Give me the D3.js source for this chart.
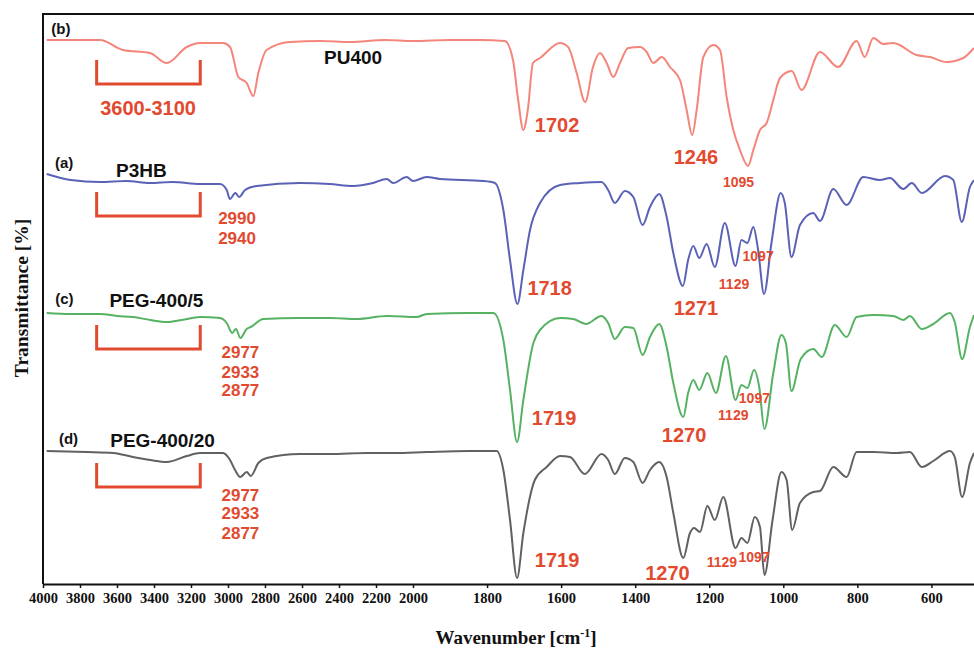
<!DOCTYPE html>
<html>
<head>
<meta charset="utf-8">
<script src="https://cdn.jsdelivr.net/npm/d3@7/dist/d3.min.js"></script>
<style>
  html, body { margin: 0; padding: 0; background: #fff; }
  svg { display: block; }
</style>
</head>
<body>
<svg id="chart" width="974" height="649"></svg>
<script>
// FTIR spectra, stacked with vertical offsets (offset transmittance, a.u.)
// Each point: [wavenumber cm-1, offset transmittance]

const wavenumberTicks = [4000, 3800, 3600, 3400, 3200, 3000, 2800, 2600, 2400, 2200, 2000,
                         1800, 1600, 1400, 1200, 1000, 800, 600];

const seriesNames = ["PU400", "P3HB", "PEG-400/5", "PEG-400/20"];
const seriesTags  = ["(b)", "(a)", "(c)", "(d)"];

const pu400 = [[3980,544],[3692,544],[3568,534],[3422,531],[3331,521],[3223,537],[3151,541],[3027,541],
  [2989,537],[2944,507],[2899,501],[2863,488],[2836,511],[2791,534],[2665,542],[2500,543],[2341,542],
  [2150,544],[2000,543],[1900,544],[1819,544],[1752,543],[1730,524],[1716,484],[1702,454],[1690,474],
  [1676,521],[1657,526],[1603,541],[1581,537],[1558,511],[1535,482],[1514,517],[1495,531],[1477,521],
  [1459,507],[1441,521],[1419,536],[1387,537],[1369,532],[1351,521],[1328,527],[1306,517],[1279,504],
  [1261,474],[1246,449],[1234,474],[1216,527],[1189,539],[1171,534],[1153,487],[1135,454],[1117,434],
  [1095,418],[1081,434],[1063,454],[1045,461],[1027,484],[1009,506],[977,513],[951,494],[901,532],
  [852,517],[802,543],[780,527],[757,546],[730,540],[703,541],[640,529],[604,527],[559,522],[514,526],
  [485,536]];

const p3hb = [[3980,410],[3850,404],[3692,402],[3550,403],[3422,401],[3300,402],[3151,400],[3043,400],
  [3007,394],[2990,385],[2960,391],[2940,387],[2908,394],[2845,398],[2611,401],[2450,400],[2324,398],
  [2216,401],[2142,405],[2107,401],[2034,407],[2000,403],[1963,407],[1927,405],[1811,403],[1779,401],
  [1756,374],[1738,324],[1718,280],[1702,314],[1684,354],[1657,381],[1603,399],[1549,401],[1491,402],
  [1473,394],[1455,381],[1428,393],[1405,387],[1380,359],[1360,377],[1335,390],[1315,367],[1297,331],
  [1271,298],[1257,324],[1243,338],[1227,326],[1207,340],[1185,317],[1158,361],[1129,318],[1113,344],
  [1097,341],[1081,357],[1068,334],[1052,290],[1032,341],[1007,391],[996,381],[978,327],[955,359],
  [919,371],[901,363],[865,395],[829,379],[784,407],[739,404],[712,406],[676,395],[653,401],[626,391],
  [563,408],[541,404],[518,362],[496,397],[485,404]];

const peg400_5 = [[3980,271],[3850,270],[3692,270],[3600,268],[3514,267],[3420,264],[3331,262],[3250,264],
  [3151,267],[3043,266],[3007,261],[2977,251],[2957,255],[2933,246],[2899,255],[2877,257],[2809,265],
  [2611,266],[2450,266],[2304,265],[2142,268],[1990,267],[1963,270],[1850,271],[1783,271],[1756,244],
  [1738,194],[1719,142],[1702,184],[1675,241],[1657,254],[1603,266],[1567,265],[1533,260],[1491,268],
  [1473,261],[1455,245],[1428,257],[1405,256],[1380,229],[1360,247],[1335,260],[1315,237],[1297,201],
  [1270,167],[1257,191],[1243,204],[1227,194],[1205,211],[1182,191],[1155,228],[1129,184],[1113,199],
  [1097,196],[1079,214],[1065,197],[1051,155],[1027,211],[1005,249],[993,241],[978,193],[953,225],
  [919,235],[896,227],[861,259],[829,247],[802,267],[757,269],[703,268],[676,264],[658,268],[626,255],
  [595,260],[550,271],[537,262],[517,225],[496,257],[485,269]];

const peg400_20 = [[3980,133],[3764,132],[3620,131],[3514,127],[3420,124],[3331,122],[3223,128],[3151,131],
  [3027,131],[2989,124],[2962,114],[2933,107],[2899,112],[2877,108],[2836,121],[2791,126],[2611,130],
  [2450,130],[2250,131],[2100,131],[1963,132],[1850,133],[1774,133],[1756,114],[1738,64],[1719,6],
  [1702,51],[1671,104],[1639,117],[1603,128],[1576,127],[1536,110],[1491,130],[1473,124],[1455,110],
  [1428,126],[1405,122],[1380,101],[1360,114],[1335,122],[1315,107],[1297,71],[1270,26],[1252,51],
  [1241,56],[1225,52],[1205,78],[1185,64],[1162,87],[1129,36],[1113,46],[1097,41],[1077,67],[1063,57],
  [1051,9],[1029,64],[1005,112],[991,104],[976,54],[955,81],[919,92],[901,93],[865,117],[829,107],
  [802,132],[757,132],[694,131],[658,132],[626,117],[595,123],[550,133],[537,127],[517,87],[496,121],
  [485,131]];

const spectra = [pu400, p3hb, peg400_5, peg400_20];

// O-H stretching region bracket, drawn under each spectrum
const bracketRange = [3710, 3150];
const bracketTops  = [524, 392, 259, 121];
const bracketDepth = 24;

// Label anchors: [text, wavenumber, offset transmittance, kind]
const nameAnchors = [[2324,527],[3468,414],[3387,284],[3354,144]];
const tagAnchors  = [[3903,556],[3886,422],[3884,286],[3862,146]];
const peakLabels = [
  ["3600-3100", 3432, 476, "major"],
  ["1702", 1611, 459, "major"],
  ["1246", 1236, 427, "major"],
  ["1095", 1121, 402, "minor"],
  ["2990", 2951, 366, "ch"],
  ["2940", 2951, 346, "ch"],
  ["1718", 1631, 296, "major"],
  ["1271", 1236, 276, "major"],
  ["1129", 1133, 300, "minor"],
  ["1097", 1068, 328, "minor"],
  ["2977", 2933, 232, "ch"],
  ["2933", 2933, 212, "ch"],
  ["2877", 2933, 194, "ch"],
  ["1719", 1619, 166, "major"],
  ["1270", 1268, 149, "major"],
  ["1129", 1135, 169, "minor"],
  ["1097", 1078, 186, "minor"],
  ["2977", 2933, 89, "ch"],
  ["2933", 2933, 71, "ch"],
  ["2877", 2933, 51, "ch"],
  ["1719", 1611, 24, "major"],
  ["1270", 1313, 11, "major"],
  ["1129", 1166, 22, "minor"],
  ["1097", 1079, 27, "minor"]
];

// ---- drawing ----
const plot = { left: 43, top: 14, right: 974, bottom: 584 };
const lineColors = ["#f4857b", "#5a62b6", "#55b262", "#616161"];
const annotColor = "#e24a30";
const labelSizes = { major: 20, ch: 17, minor: 14 };

const svg = d3.select("#chart");

// Split wavenumber axis: 4000-2000 compressed, 2000 and below expanded
const x = d3.scaleLinear().domain([4000, 2000, 485]).range([plot.left, 413, plot.right]);
const y = d3.scaleLinear().domain([0, 570]).range([plot.bottom, plot.top]);

svg.append("defs").append("clipPath").attr("id", "plotClip")
  .append("rect").attr("x", plot.left).attr("y", plot.top)
  .attr("width", plot.right - plot.left).attr("height", plot.bottom - plot.top);

const line = d3.line()
  .x(d => x(d[0]))
  .y(d => y(d[1]))
  .curve(d3.curveMonotoneX);

svg.append("g").attr("clip-path", "url(#plotClip)")
  .selectAll("path.spectrum")
  .data(spectra)
  .join("path")
  .attr("class", "spectrum")
  .attr("d", line)
  .attr("fill", "none")
  .attr("stroke", (d, i) => lineColors[i])
  .attr("stroke-width", 2)
  .attr("stroke-linejoin", "round");

// brackets
svg.append("g").selectAll("path.bracket")
  .data(bracketTops)
  .join("path")
  .attr("class", "bracket")
  .attr("d", t => {
    const x0 = x(bracketRange[0]), x1 = x(bracketRange[1]);
    const yt = y(t), yb = y(t - bracketDepth);
    return `M${x0},${yt}V${yb}H${x1}V${yt}`;
  })
  .attr("fill", "none")
  .attr("stroke", annotColor)
  .attr("stroke-width", 3);

// frame: left, top
svg.append("line").attr("x1", plot.left).attr("x2", plot.left)
  .attr("y1", plot.top).attr("y2", plot.bottom)
  .attr("stroke", "#111").attr("stroke-width", 2);
svg.append("line").attr("x1", plot.left - 1).attr("x2", plot.right)
  .attr("y1", plot.top).attr("y2", plot.top)
  .attr("stroke", "#111").attr("stroke-width", 2);

// bottom axis
const xAxis = d3.axisBottom(x)
  .tickValues(wavenumberTicks)
  .tickSize(4)
  .tickSizeOuter(0)
  .tickFormat(d3.format("d"));

const gx = svg.append("g")
  .attr("transform", `translate(0,${plot.bottom})`)
  .call(xAxis);
gx.select(".domain").attr("stroke", "#111").attr("stroke-width", 2);
gx.selectAll(".tick line").attr("stroke", "#111").attr("stroke-width", 1.5);
gx.selectAll(".tick text")
  .attr("y", 9)
  .attr("dy", "0.71em")
  .attr("fill", "#111")
  .style("font-family", "'Liberation Serif', 'Times New Roman', serif")
  .style("font-weight", "bold")
  .style("font-size", "14.5px");

// axis titles
const xTitle = svg.append("text")
  .attr("x", 516).attr("y", 644)
  .attr("text-anchor", "middle")
  .attr("fill", "#111")
  .style("font-family", "'Liberation Serif', 'Times New Roman', serif")
  .style("font-weight", "bold")
  .style("font-size", "19px");
xTitle.append("tspan").text("Wavenumber [cm");
xTitle.append("tspan").attr("dy", -7).style("font-size", "12px").text("-1");
xTitle.append("tspan").attr("dy", 7).text("]");

svg.append("text")
  .attr("transform", "translate(28,298) rotate(-90)")
  .attr("text-anchor", "middle")
  .attr("fill", "#111")
  .style("font-family", "'Liberation Serif', 'Times New Roman', serif")
  .style("font-weight", "bold")
  .style("font-size", "19.5px")
  .text("Transmittance [%]");

// series names and tags
const sans = "'Liberation Sans', Arial, Helvetica, sans-serif";
svg.append("g").selectAll("text.name")
  .data(seriesNames)
  .join("text")
  .attr("class", "name")
  .attr("x", (d, i) => x(nameAnchors[i][0]))
  .attr("y", (d, i) => y(nameAnchors[i][1]))
  .attr("text-anchor", "middle")
  .attr("dominant-baseline", "central")
  .attr("fill", "#111")
  .style("font-family", sans)
  .style("font-weight", "bold")
  .style("font-size", "19px")
  .text(d => d);

svg.append("g").selectAll("text.tag")
  .data(seriesTags)
  .join("text")
  .attr("class", "tag")
  .attr("x", (d, i) => x(tagAnchors[i][0]))
  .attr("y", (d, i) => y(tagAnchors[i][1]))
  .attr("text-anchor", "middle")
  .attr("dominant-baseline", "central")
  .attr("fill", "#111")
  .style("font-family", sans)
  .style("font-weight", "bold")
  .style("font-size", "15px")
  .text(d => d);

// peak annotations
svg.append("g").selectAll("text.peak")
  .data(peakLabels)
  .join("text")
  .attr("class", "peak")
  .attr("x", d => x(d[1]))
  .attr("y", d => y(d[2]))
  .attr("text-anchor", "middle")
  .attr("dominant-baseline", "central")
  .attr("fill", annotColor)
  .style("font-family", sans)
  .style("font-weight", "bold")
  .style("font-size", d => labelSizes[d[3]] + "px")
  .text(d => d[0]);
</script>
</body>
</html>
